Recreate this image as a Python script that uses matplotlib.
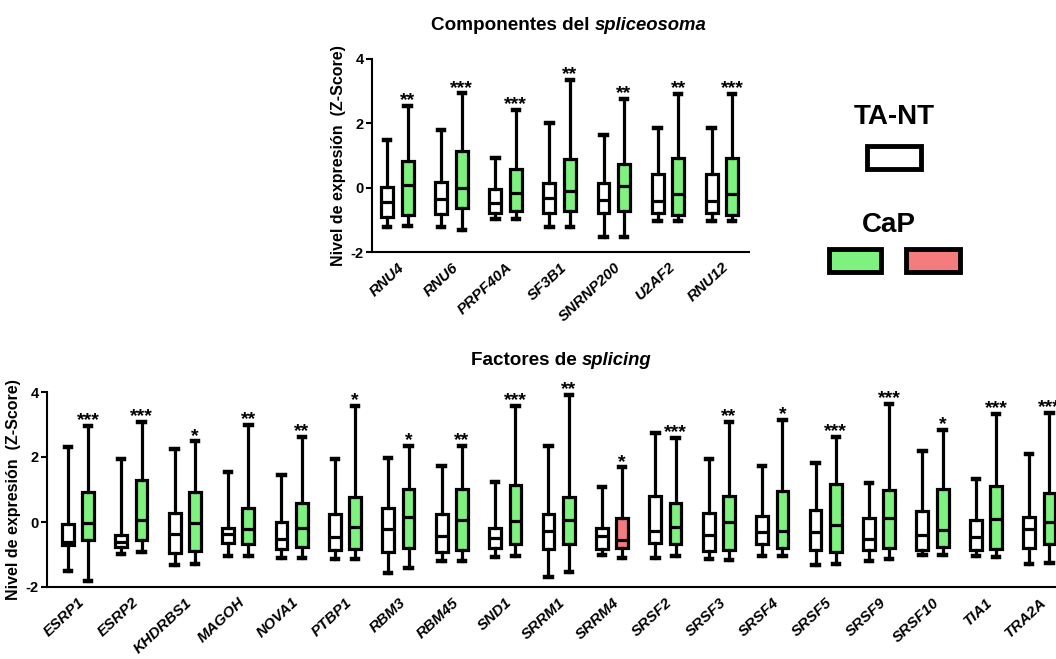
import matplotlib
matplotlib.use("Agg")
import matplotlib.pyplot as plt
from matplotlib.patches import Rectangle

plt.rcParams['font.family'] = ['Liberation Sans', 'DejaVu Sans']
plt.rcParams['font.weight'] = 'bold'
plt.rcParams['axes.unicode_minus'] = False

# ---- data: Componentes del spliceosoma ----
genes_top = ["RNU4", "RNU6", "PRPF40A", "SF3B1", "SNRNP200", "U2AF2", "RNU12"]
top_nt_hi = [1.48, 1.79, 0.93, 2.02, 1.65, 1.86, 1.85]
top_nt_q3 = [0.03, 0.19, -0.04, 0.15, 0.16, 0.44, 0.44]
top_nt_med = [-0.45, -0.36, -0.47, -0.33, -0.38, -0.43, -0.43]
top_nt_q1 = [-0.90, -0.82, -0.78, -0.80, -0.80, -0.80, -0.80]
top_nt_lo = [-1.21, -1.21, -0.98, -1.21, -1.52, -1.05, -1.05]
top_cap_hi = [2.54, 2.93, 2.43, 3.36, 2.77, 2.91, 2.91]
top_cap_q3 = [0.83, 1.14, 0.57, 0.89, 0.75, 0.91, 0.91]
top_cap_med = [0.07, 0.00, -0.16, -0.09, 0.06, -0.20, -0.20]
top_cap_q1 = [-0.85, -0.64, -0.71, -0.74, -0.74, -0.85, -0.85]
top_cap_lo = [-1.18, -1.31, -0.98, -1.21, -1.54, -1.05, -1.05]
top_stars = ["**", "***", "***", "**", "**", "**", "***"]

# ---- data: Factores de splicing ----
genes_bot = ["ESRP1", "ESRP2", "KHDRBS1", "MAGOH", "NOVA1", "PTBP1", "RBM3", "RBM45",
             "SND1", "SRRM1", "SRRM4", "SRSF2", "SRSF3", "SRSF4", "SRSF5", "SRSF9",
             "SRSF10", "TIA1", "TRA2A"]
bot_nt_hi = [2.32, 1.93, 2.25, 1.55, 1.46, 1.93, 1.96, 1.73, 1.24, 2.34, 1.07, 2.73,
             1.93, 1.72, 1.81, 1.21, 2.20, 1.32, 2.09]
bot_nt_q3 = [-0.05, -0.41, 0.29, -0.18, 0.00, 0.26, 0.44, 0.24, -0.17, 0.26, -0.18, 0.80,
             0.28, 0.19, 0.37, 0.13, 0.33, 0.06, 0.14]
bot_nt_med = [-0.62, -0.61, -0.37, -0.37, -0.53, -0.46, -0.22, -0.44, -0.48, -0.27, -0.44,
              -0.27, -0.39, -0.30, -0.30, -0.53, -0.41, -0.46, -0.23]
bot_nt_q1 = [-0.72, -0.77, -0.94, -0.66, -0.84, -0.87, -0.92, -0.92, -0.80, -0.82, -0.82,
             -0.66, -0.90, -0.69, -0.87, -0.85, -0.85, -0.85, -0.80]
bot_nt_lo = [-1.51, -0.97, -1.31, -1.04, -1.10, -1.15, -1.57, -1.19, -1.08, -1.69, -1.02,
             -1.12, -1.15, -1.05, -1.33, -1.20, -1.02, -1.05, -1.28]
bot_cap_hi = [2.96, 3.09, 2.48, 2.99, 2.63, 3.58, 2.34, 2.35, 3.58, 3.91, 1.68, 2.60,
              3.07, 3.14, 2.63, 3.63, 2.83, 3.33, 3.35]
bot_cap_q3 = [0.91, 1.29, 0.91, 0.44, 0.57, 0.78, 1.01, 1.03, 1.14, 0.78, 0.13, 0.59,
              0.80, 0.96, 1.17, 0.98, 1.03, 1.12, 0.88]
bot_cap_med = [-0.02, 0.06, -0.02, -0.20, -0.17, -0.15, 0.16, 0.06, 0.04, 0.06, -0.54,
               -0.15, 0.00, -0.28, -0.10, 0.13, -0.25, 0.09, 0.00]
bot_cap_q1 = [-0.56, -0.56, -0.89, -0.68, -0.77, -0.82, -0.79, -0.85, -0.69, -0.69, -0.80,
              -0.69, -0.87, -0.80, -0.92, -0.80, -0.77, -0.82, -0.69]
bot_cap_lo = [-1.82, -0.92, -1.28, -1.05, -1.10, -1.15, -1.43, -1.19, -1.04, -1.54, -1.10,
              -1.05, -1.18, -1.05, -1.28, -1.15, -1.00, -1.08, -1.25]
bot_stars = ["***", "***", "*", "**", "**", "*", "*", "**", "***", "**", "*", "***",
             "**", "*", "***", "***", "*", "***", "***"]
bot_down = ["SRRM4"]  # genes drawn in red

GREEN = "#7ef27e"
RED = "#f47c7c"
W, H = 1056, 659


def px(x, y):
    # pixel coords (top-left origin) -> figure fraction
    return x / W, 1 - y / H


def stats(lo, q1, med, q3, hi):
    return [dict(whislo=a, q1=b, med=c, q3=d, whishi=e, fliers=[])
            for a, b, c, d, e in zip(lo, q1, med, q3, hi)]


def panel(ax, genes, nt, cap, stars, xlim, down=()):
    n = len(genes)
    xs = list(range(n))
    lw = 2.3
    common = dict(widths=0.22, capwidths=0.12, patch_artist=True, showfliers=False,
                  boxprops=dict(linewidth=lw, edgecolor="black"),
                  whiskerprops=dict(linewidth=lw, color="black"),
                  capprops=dict(linewidth=3.2, color="black"),
                  medianprops=dict(linewidth=lw, color="black"))
    b1 = ax.bxp(stats(*nt), positions=[x - 0.19 for x in xs], **common)
    b2 = ax.bxp(stats(*cap), positions=[x + 0.19 for x in xs], **common)
    for p in b1["boxes"]:
        p.set_facecolor("white")
    for g, p in zip(genes, b2["boxes"]):
        p.set_facecolor(RED if g in down else GREEN)
    for x, s, hi in zip(xs, stars, cap[4]):
        ax.annotate(s, (x + 0.19, hi), xytext=(0, 0.5), textcoords="offset points",
                    ha="center", va="baseline", fontsize=14, fontweight="bold")
    ax.set_xlim(*xlim)
    ax.set_ylim(-2, 4)
    ax.set_yticks([-2, 0, 2, 4])
    ax.set_xticks(xs)
    ax.set_xticklabels(genes, rotation=43, ha="right", rotation_mode="anchor",
                       fontsize=11, fontweight="bold", fontstyle="italic")
    ax.tick_params(axis="x", length=0, pad=6)
    ax.tick_params(axis="y", length=4, width=1.5, labelsize=10.5, pad=2)
    for lab in ax.get_yticklabels():
        lab.set_fontweight("bold")
    for side in ("top", "right"):
        ax.spines[side].set_visible(False)
    for side in ("left", "bottom"):
        ax.spines[side].set_linewidth(1.5)
    ax.set_ylabel("Nivel de expresión  (Z-Score)", fontsize=11.5, fontweight="bold",
                  labelpad=3)


fig = plt.figure(figsize=(W / 100, H / 100), dpi=100)

l, b = px(372, 252)
r, t = px(749, 59)
ax1 = fig.add_axes([l, b, r - l, t - b])
panel(ax1, genes_top,
      (top_nt_lo, top_nt_q1, top_nt_med, top_nt_q3, top_nt_hi),
      (top_cap_lo, top_cap_q1, top_cap_med, top_cap_q3, top_cap_hi),
      top_stars, (-0.47, 6.5))

l, b = px(47, 587)
r, t = px(1066, 392)
ax2 = fig.add_axes([l, b, r - l, t - b])
panel(ax2, genes_bot,
      (bot_nt_lo, bot_nt_q1, bot_nt_med, bot_nt_q3, bot_nt_hi),
      (bot_cap_lo, bot_cap_q1, bot_cap_med, bot_cap_q3, bot_cap_hi),
      bot_stars, (-0.58, 18.5), down=bot_down)

# titles with italic part
for x0, y0, a, bit in [(592, 26, "Componentes del", "spliceosoma"),
                       (579, 361, "Factores de", "splicing")]:
    fx, fy = px(x0, y0)
    fig.text(fx - 2 / W, fy, a, ha="right", va="center", fontsize=13.6, fontweight="bold")
    fig.text(fx + 3 / W, fy, bit, ha="left", va="center", fontsize=13.3,
             fontweight="bold", fontstyle="italic")

# legend drawn by hand
fig.text(*px(894, 117), "TA-NT", ha="center", va="center", fontsize=20, fontweight="bold")
fig.text(*px(889, 225), "CaP", ha="center", va="center", fontsize=20, fontweight="bold")
for x0, y0, x1, y1, col in [(865, 144, 923, 171, "white"),
                            (827, 247, 883, 274, GREEN),
                            (904, 247, 962, 274, RED)]:
    fl, fb = px(x0 + 2, y1 - 2)
    fr, ft = px(x1 - 2, y0 + 2)
    fig.add_artist(Rectangle((fl, fb), fr - fl, ft - fb, transform=fig.transFigure,
                             facecolor=col, edgecolor="black", linewidth=3.5))

fig.savefig("out.png", dpi=100)
